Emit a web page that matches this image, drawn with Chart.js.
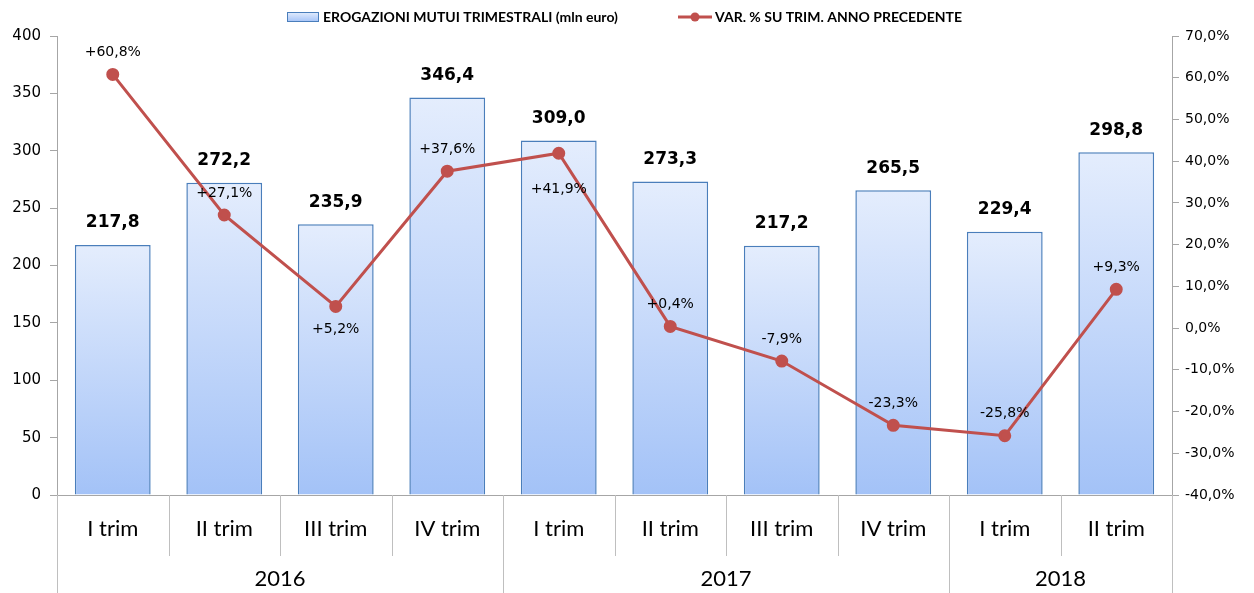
<!DOCTYPE html>
<html>
<head>
<meta charset="utf-8">
<script src="https://cdn.jsdelivr.net/npm/chart.js@4/dist/chart.umd.min.js"></script>
<style>
  html, body { margin: 0; padding: 0; background: #fff; }
  .wrap { width: 1254px; height: 593px; position: relative; }
</style>
</head>
<body>
<div class="wrap"><canvas id="myChart"></canvas></div>
<script>
const quarters = ['I trim', 'II trim', 'III trim', 'IV trim', 'I trim', 'II trim', 'III trim', 'IV trim', 'I trim', 'II trim'];
const years = ['2016', '2017', '2018'];
const quartersPerYear = [4, 4, 2];
const erogazioni = [217.8, 272.2, 235.9, 346.4, 309.0, 273.3, 217.2, 265.5, 229.4, 298.8];
const variazione = [60.8, 27.1, 5.2, 37.6, 41.9, 0.4, -7.9, -23.3, -25.8, 9.3];

const barLabel = 'EROGAZIONI MUTUI TRIMESTRALI (mln euro)';
const lineLabel = 'VAR. % SU TRIM. ANNO PRECEDENTE';

const RED = '#c0504d';
const BAR_BORDER = '#4a7ebb';
const AXIS_GREY = '#a6a6a6';

// where each % label sits relative to its point (px, negative = above)
const lineLabelShift = [-22, -22, 23, -22, 36, -22, -22, -22, -22, -22];

const fmt = v => v.toFixed(1).replace('.', ',');
const fmtPct = v => (v >= 0 ? '+' : '') + fmt(v) + '%';

function barGradient(ctx, top, bottom) {
  const g = ctx.createLinearGradient(0, top, 0, bottom);
  g.addColorStop(0, '#e4edfd');
  g.addColorStop(1, '#a3c2f7');
  return g;
}

const labelsPlugin = {
  id: 'labelsPlugin',
  afterDatasetsDraw(chart) {
    const c = chart.ctx;
    c.save();
    c.textAlign = 'center';
    c.textBaseline = 'middle';
    c.fillStyle = '#000';

    c.font = 'bold 17px "DejaVu Sans"';
    chart.getDatasetMeta(0).data.forEach((bar, i) => {
      c.fillText(fmt(erogazioni[i]), bar.x, bar.y - 22);
    });

    c.font = '14px "DejaVu Sans"';
    chart.getDatasetMeta(1).data.forEach((pt, i) => {
      c.fillText(fmtPct(variazione[i]), pt.x, pt.y + lineLabelShift[i]);
    });
    c.restore();
  },
  afterDraw(chart) {
    const c = chart.ctx;
    const x = chart.scales.x;
    const n = quarters.length;
    const step = (x.right - x.left) / n;
    const H = chart.height;

    // category separators and year boundaries
    const bounds = [0];
    quartersPerYear.reduce((acc, k) => { bounds.push(acc + k); return acc + k; }, 0);
    c.save();
    c.strokeStyle = '#bfbfbf';
    c.lineWidth = 1;
    for (let i = 0; i <= n; i++) {
      const px = Math.round(x.left + i * step) + 0.5;
      const bottom = bounds.includes(i) ? H : x.top + 61;
      c.beginPath();
      c.moveTo(px, x.top);
      c.lineTo(px, bottom);
      c.stroke();
    }

    // year row
    c.fillStyle = '#000';
    c.font = '22px Lato';
    c.textAlign = 'center';
    c.textBaseline = 'middle';
    years.forEach((y, k) => {
      const mid = x.left + (bounds[k] + bounds[k + 1]) / 2 * step;
      c.fillText(y, mid, x.top + 84);
    });

    // legend
    c.font = 'bold 14px Lato';
    c.textAlign = 'left';
    const ly = 17;
    const bx = 287;
    c.fillStyle = barGradient(c, ly - 5, ly + 5);
    c.fillRect(bx, ly - 5, 32, 10);
    c.strokeStyle = BAR_BORDER;
    c.strokeRect(bx + 0.5, ly - 4.5, 31, 9);
    c.fillStyle = '#000';
    c.fillText(barLabel, bx + 36, ly);

    const lx = 678;
    c.strokeStyle = RED;
    c.lineWidth = 3;
    c.beginPath();
    c.moveTo(lx, ly);
    c.lineTo(lx + 34, ly);
    c.stroke();
    c.fillStyle = RED;
    c.beginPath();
    c.arc(lx + 17, ly, 4.5, 0, Math.PI * 2);
    c.fill();
    c.fillStyle = '#000';
    c.fillText(lineLabel, lx + 37, ly);
    c.restore();
  },
};

const ctx = document.querySelector('#myChart').getContext('2d');

new Chart(ctx, {
  data: {
    labels: quarters,
    datasets: [
      {
        type: 'bar',
        label: barLabel,
        data: erogazioni,
        yAxisID: 'y',
        order: 2,
        backgroundColor: context => {
          const chart = context.chart;
          if (!chart.chartArea || context.dataIndex === undefined) return '#c9dbf9';
          const s = chart.scales.y;
          return barGradient(chart.ctx, s.getPixelForValue(context.raw), s.getPixelForValue(0));
        },
        borderColor: BAR_BORDER,
        borderWidth: 1.5,
        barPercentage: 0.68,
        categoryPercentage: 1,
      },
      {
        type: 'line',
        label: lineLabel,
        data: variazione,
        yAxisID: 'y2',
        order: 1,
        borderColor: RED,
        backgroundColor: RED,
        borderWidth: 3,
        pointRadius: 5,
        pointHoverRadius: 5,
        tension: 0,
        fill: false,
      },
    ],
  },
  options: {
    responsive: true,
    maintainAspectRatio: false,
    animation: false,
    layout: { padding: { top: 36, left: 0, right: 0, bottom: 0 } },
    plugins: {
      legend: { display: false },
      tooltip: { enabled: false },
    },
    scales: {
      x: {
        grid: { display: false },
        border: { display: true, color: AXIS_GREY },
        ticks: {
          color: '#000',
          font: { family: 'Lato', size: 22 },
          padding: 13,
          maxRotation: 0,
          autoSkip: false,
        },
        afterFit: scale => { scale.height = 98; },
      },
      y: {
        position: 'left',
        min: 0,
        max: 400,
        grid: { drawOnChartArea: false, drawTicks: true, tickLength: 7, color: AXIS_GREY },
        border: { display: true, color: AXIS_GREY },
        ticks: {
          stepSize: 50,
          color: '#000',
          font: { family: 'DejaVu Sans', size: 15 },
          padding: 9,
        },
        afterFit: scale => { scale.width = 57; },
      },
      y2: {
        position: 'right',
        min: -40,
        max: 70,
        grid: { drawOnChartArea: false, drawTicks: true, tickLength: 7, color: AXIS_GREY },
        border: { display: true, color: AXIS_GREY },
        ticks: {
          stepSize: 10,
          color: '#000',
          font: { family: 'DejaVu Sans', size: 14 },
          padding: 6,
          callback: v => fmt(v) + '%',
        },
        afterFit: scale => { scale.width = 82; },
      },
    },
  },
  plugins: [labelsPlugin],
});
</script>
</body>
</html>
